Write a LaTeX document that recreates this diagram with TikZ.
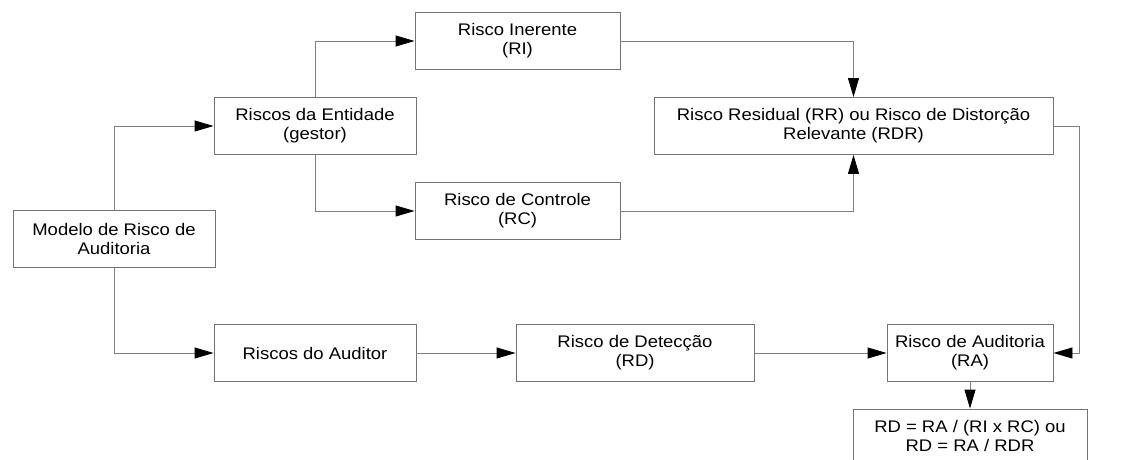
\documentclass[tikz,border=0pt]{standalone}
\usepackage{fontspec}
\setmainfont{Liberation Sans}[FakeStretch=1.1]
\usetikzlibrary{arrows.meta}

\tikzset{
    box/.style={draw=black!55, line width=0.9pt, align=center, inner sep=2pt,
        minimum width=202pt, minimum height=57pt,
        font=\fontsize{16.8}{19}\selectfont},
    arr/.style={draw=black!50, line width=0.9pt,
        -{Triangle[length=19pt,width=11pt,fill=black,color=black]}}
}

\begin{document}
\begin{tikzpicture}[x=1pt,y=-1pt]
    \useasboundingbox (0,0) rectangle (1125,460);

    % boxes
    \node[box] (modelo) at (114, 239) {Modelo de Risco de\\Auditoria};
    \node[box] (entidade) at (315, 126) {Riscos da Entidade\\(gestor)};
    \node[box, minimum width=205pt] (ri) at (517.5, 41) {Risco Inerente\\(RI)};
    \node[box, minimum width=205pt] (rc) at (517.5, 211) {Risco de Controle\\(RC)};
    \node[box] (auditor) at (315, 353) {Riscos do Auditor};
    \node[box, minimum width=238pt] (rd) at (635, 353) {Risco de Detecção\\(RD)};
    \node[box, minimum width=399pt] (rr) at (853.5, 126)
        {Risco Residual (RR) ou Risco de Distorção\\Relevante (RDR)};
    \node[box, minimum width=166pt] (ra) at (970, 353) {Risco de Auditoria\\(RA)};
    \node[box, minimum width=234pt, minimum height=54pt] (formula) at (970, 436)
        {RD = RA / (RI x RC) ou\\RD = RA / RDR};

    % connectors
    \coordinate (turn) at (1079, 126);
    \draw[arr] (modelo.north) |- (entidade.west);
    \draw[arr] (modelo.south) |- (auditor.west);
    \draw[arr] (entidade.north) |- (ri.west);
    \draw[arr] (entidade.south) |- (rc.west);
    \draw[arr] (ri.east) -| (rr.north);
    \draw[arr] (rc.east) -| (rr.south);
    \draw[arr] (auditor.east) -- (rd.west);
    \draw[arr] (rd.east) -- (ra.west);
    \draw[arr] (rr.east) -- (turn) |- (ra.east);
    \draw[arr] (ra.south) -- (formula.north);
\end{tikzpicture}
\end{document}
